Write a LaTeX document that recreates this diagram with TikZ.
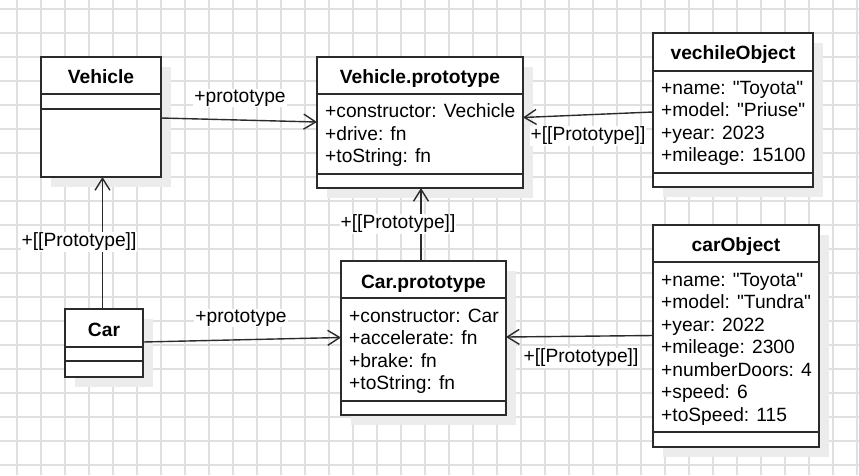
\documentclass[tikz,border=0pt]{standalone}
\usepackage{fontspec}
\setmainfont{Liberation Sans}
\newfontfamily\qfont{Liberation Sans}
\usetikzlibrary{arrows.meta,calc}
\definecolor{gridc}{HTML}{E0E0E0}
\definecolor{shadowc}{HTML}{ECECEC}
\definecolor{linec}{HTML}{2B2B2B}
\newcommand{\sq}{{\qfont\char34}}
\tikzset{
  umlbox/.style={draw=linec,line width=1.5pt,fill=white,anchor=north west,inner sep=0pt,outer sep=0pt},
  divider/.style={draw=linec,line width=1.5pt},
  boxtitle/.style={anchor=base,inner sep=0pt,font=\fontsize{19.2}{22.5}\selectfont\bfseries},
  attr/.style={anchor=base west,inner sep=0pt,font=\fontsize{19.2}{22.5}\selectfont},
  lbl/.style={fill=white,inner sep=1pt,font=\fontsize{19.2}{22.5}\selectfont},
  assoc/.style={draw=linec,line width=1.4pt,-{Straight Barb[length=12pt,width=15pt,line width=1.4pt]}}
}
\newcommand{\umlclass}[5]{% name, x, y, w, h
  \fill[shadowc] (#2+10,#3+10) rectangle ++(#4,#5);
  \node[umlbox,minimum width=#4pt,minimum height=#5pt] (#1) at (#2,#3) {};
}
\begin{document}
\begin{tikzpicture}[x=1pt,y=-1pt]
\useasboundingbox (0,0) rectangle (859,475);
\fill[white] (0,0) rectangle (859,475);
% grid
\foreach \gx in {17,41,...,857} \draw[gridc,line width=1.6pt] (\gx,0) -- (\gx,475);
\foreach \gy in {9,33,...,465} \draw[gridc,line width=1.6pt] (0,\gy) -- (859,\gy);

% Vehicle
\umlclass{vehicle}{41}{57}{120}{120}
\node[boxtitle] (vehicleT) at (101,83) {Vehicle};
\draw[divider] (41,94) -- (162,94);
\draw[divider] (41,109) -- (162,109);

% Vehicle.prototype
\umlclass{vproto}{317}{57}{206}{131}
\node[boxtitle] (vprotoT) at (420,83) {Vehicle.prototype};
\draw[divider] (317,94) -- (524,94);
\draw[divider] (317,174) -- (524,174);
\node[attr] (vp1) at (325,117.5) {+constructor: Vechicle};
\node[attr] (vp2) at (325,140) {+drive: fn};
\node[attr] (vp3) at (325,162.5) {+toString: fn};

% vechileObject
\umlclass{vobj}{653}{33}{160}{154}
\node[boxtitle] (vobjT) at (733,59) {vechileObject};
\draw[divider] (653,71) -- (814,71);
\draw[divider] (653,173) -- (814,173);
\node[attr] (vo1) at (661,94) {+name: \sq Toyota\sq};
\node[attr] (vo2) at (661,116.5) {+model: \sq Priuse\sq};
\node[attr] (vo3) at (661,139) {+year: 2023};
\node[attr] (vo4) at (661,161.5) {+mileage: 15100};

% Car
\umlclass{car}{65}{309}{78}{68}
\node[boxtitle] (carT) at (104,336) {Car};
\draw[divider] (65,347) -- (144,347);
\draw[divider] (65,361) -- (144,361);

% Car.prototype
\umlclass{cproto}{341}{261}{165}{154}
\node[boxtitle] (cprotoT) at (423.5,288) {Car.prototype};
\draw[divider] (341,298) -- (507,298);
\draw[divider] (341,401) -- (507,401);
\node[attr] (cp1) at (349,322) {+constructor: Car};
\node[attr] (cp2) at (349,344.5) {+accelerate: fn};
\node[attr] (cp3) at (349,367) {+brake: fn};
\node[attr] (cp4) at (349,389.5) {+toString: fn};

% carObject
\umlclass{cobj}{653}{225}{166}{222}
\node[boxtitle] (cobjT) at (736,251) {carObject};
\draw[divider] (653,262) -- (820,262);
\draw[divider] (653,432) -- (820,432);
\node[attr] (co1) at (661,286) {+name: \sq Toyota\sq};
\node[attr] (co2) at (661,308.5) {+model: \sq Tundra\sq};
\node[attr] (co3) at (661,331) {+year: 2022};
\node[attr] (co4) at (661,353.5) {+mileage: 2300};
\node[attr] (co5) at (661,376) {+numberDoors: 4};
\node[attr] (co6) at (661,398.5) {+speed: 6};
\node[attr] (co7) at (661,421) {+toSpeed: 115};

% connectors
\draw[assoc] ($(vehicle.north east)+(0,61)$) -- ($(vproto.north west)+(0,65)$);
\draw[assoc] ($(vobj.north west)+(0,79)$) -- ($(vproto.north east)+(0,60.5)$);
\draw[assoc] ($(car.north)+(-1.5,0)$) -- ($(vehicle.south)+(1.5,0)$);
\draw[assoc] ($(cproto.north west)+(80,0)$) -- ($(vproto.south)+(1,0)$);
\draw[assoc] ($(car.north east)+(0,33)$) -- ($(cproto.north west)+(0,76.5)$);
\draw[assoc] ($(cobj.north west)+(0,110.5)$) -- ($(cproto.north east)+(0,76)$);

% labels
\node[lbl] (l1) at (240,98) {+prototype};
\node[lbl] (l2) at (588,136) {+[[Prototype]]};
\node[lbl] (l3) at (79,242) {+[[Prototype]]};
\node[lbl] (l4) at (398,224) {+[[Prototype]]};
\node[lbl] (l5) at (241,318) {+prototype};
\node[lbl] (l6) at (581,358) {+[[Prototype]]};
\end{tikzpicture}
\end{document}
